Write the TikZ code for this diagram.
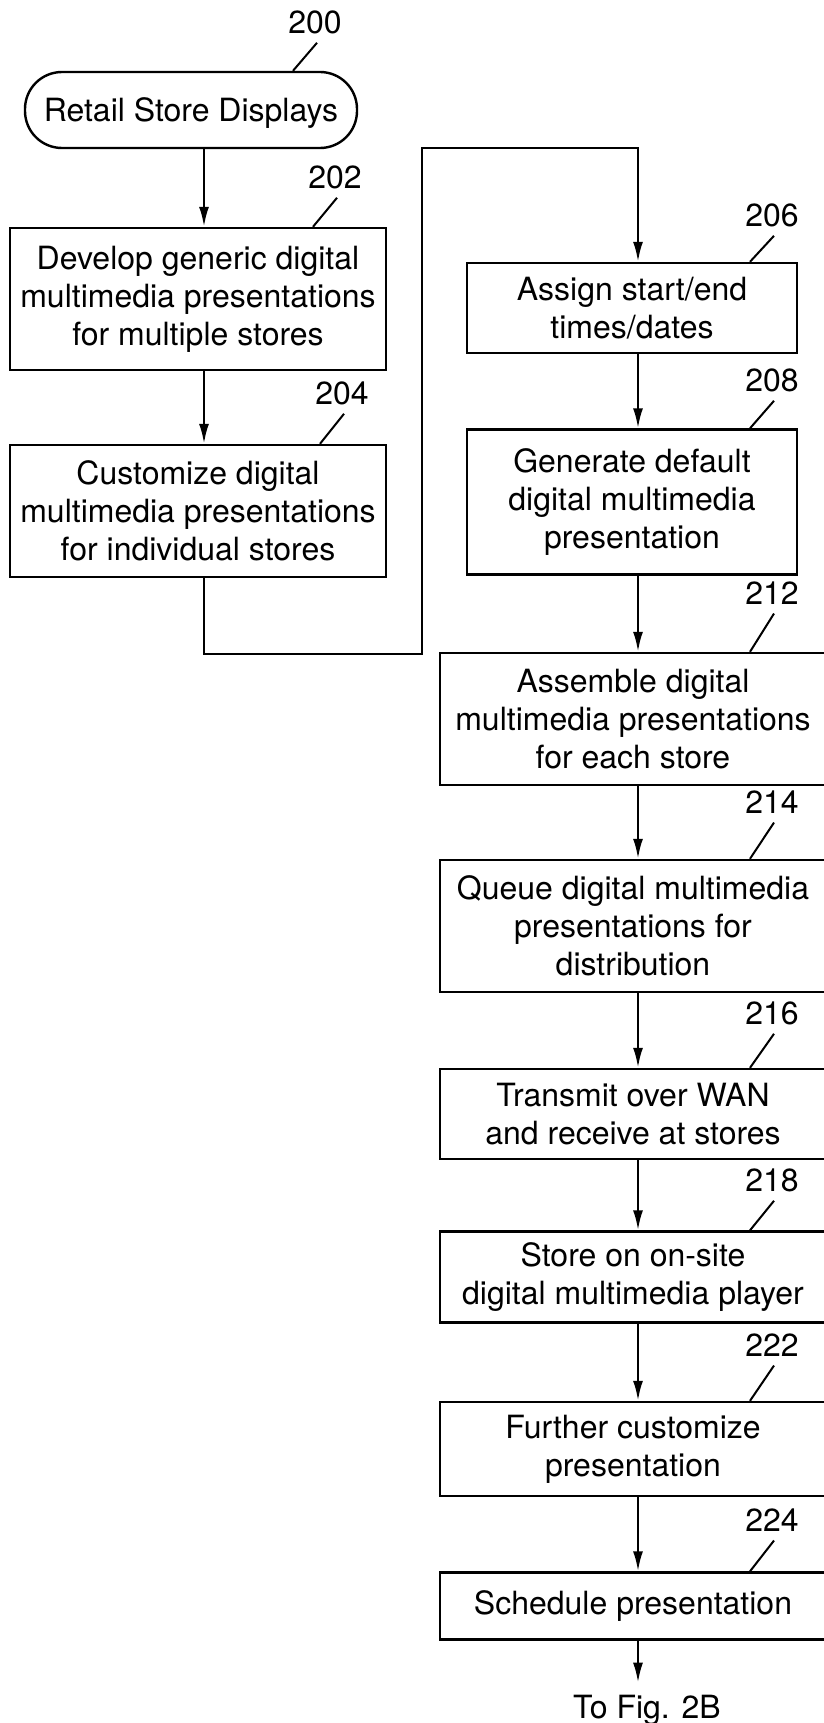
\documentclass[tikz,border=0pt]{standalone}
\usepackage{fontspec}
\setmainfont{TeX Gyre Heros}
\usetikzlibrary{arrows.meta}
\begin{document}
\begin{tikzpicture}[x=1pt, y=-1pt,
    every node/.style={font=\fontsize{32}{38}\selectfont, inner sep=0pt},
    box/.style={draw, line width=2.4pt, align=center},
    term/.style={box, rounded corners=37pt, minimum width=332pt, minimum height=76pt, text depth=0pt},
    flow/.style={line width=2.4pt, -{Latex[length=20pt, width=10pt]}},
    lead/.style={line width=2pt}]
  \useasboundingbox (0,0) rectangle (823,1723);
  \coordinate (colL) at (204,0);
  \coordinate (colR) at (638,0);
  \coordinate (loopB) at (422,654);
  \coordinate (loopT) at (422,148);
  % left column
  \node[term] (b200) at (191,110) {Retail Store Displays};
  \node[box, minimum width=376pt, minimum height=142pt] (b202) at (198,299)
    {Develop generic digital\\multimedia presentations\\for multiple stores};
  \node[box, minimum width=376pt, minimum height=132pt] (b204) at (198,511)
    {Customize digital\\multimedia presentations\\for individual stores};
  % right column
  \node[box, minimum width=330pt, minimum height=90pt] (b206) at (632,308)
    {Assign start/end\\times/dates};
  \node[box, minimum width=330pt, minimum height=145pt] (b208) at (632,502)
    {Generate default\\digital multimedia\\presentation};
  \node[box, minimum width=386pt, minimum height=132pt] (b212) at (633,719)
    {Assemble digital\\multimedia presentations\\for each store};
  \node[box, minimum width=386pt, minimum height=132pt] (b214) at (633,926)
    {Queue digital multimedia\\presentations for\\distribution};
  \node[box, minimum width=386pt, minimum height=90pt] (b216) at (633,1114)
    {Transmit over WAN\\and receive at stores};
  \node[box, minimum width=386pt, minimum height=91pt] (b218) at (633,1277)
    {Store on on-site\\digital multimedia player};
  \node[box, minimum width=386pt, minimum height=94pt] (b222) at (633,1449)
    {Further customize\\presentation};
  \node[box, minimum width=386pt, minimum height=67pt] (b224) at (633,1606)
    {Schedule presentation};
  \node (tofig) at (647,1710) {To Fig. 2B};
  % reference numbers
  \node (n200) at (315,22) {200};
  \node (n202) at (335,177) {202};
  \node (n204) at (342,393) {204};
  \node (n206) at (772,215) {206};
  \node (n208) at (772,380) {208};
  \node (n212) at (772,593) {212};
  \node (n214) at (772,802) {214};
  \node (n216) at (772,1013) {216};
  \node (n218) at (772,1180) {218};
  \node (n222) at (772,1345) {222};
  \node (n224) at (772,1520) {224};
  \foreach \n in {200,202,204,206,208,212,214,216,218,222,224}
    \draw[lead] ([xshift=2pt, yshift=-9pt]n\n.south) -- ([xshift=-22pt]n\n.south |- b\n.north);
  % connectors
  \draw[flow] (b200.south -| colL) -- (b202.north -| colL);
  \draw[flow] (b202.south -| colL) -- (b204.north -| colL);
  \draw[flow] (b204.south -| colL) |- (loopB) -- (loopT) -| (b206.north -| colR);
  \foreach \a/\b in {206/208, 208/212, 212/214, 214/216, 216/218, 218/222, 222/224}
    \draw[flow] (b\a.south -| colR) -- (b\b.north -| colR);
  \draw[flow] (b224.south -| colR) -- ([yshift=12pt]tofig.north -| colR);
\end{tikzpicture}
\end{document}
